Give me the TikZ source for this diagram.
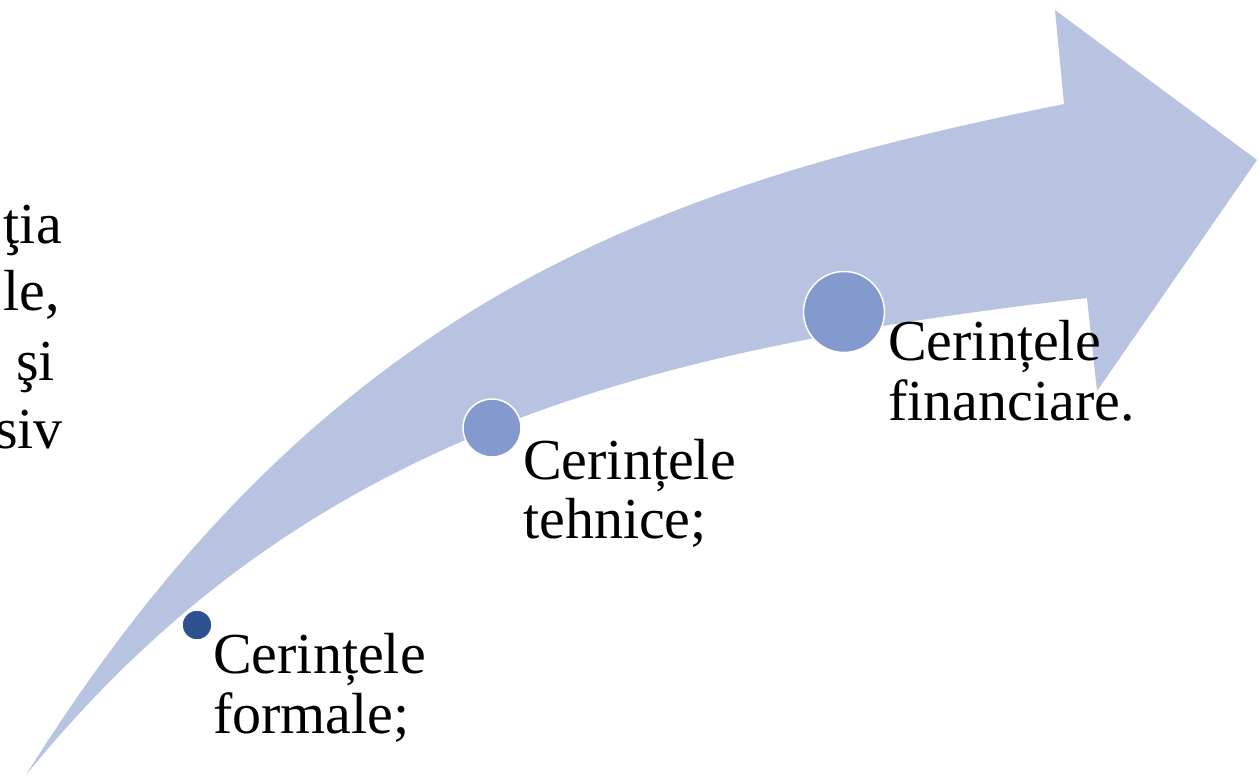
\documentclass[tikz,border=0pt]{standalone}
\usepackage{fontspec}
\setmainfont{Liberation Serif}
\definecolor{arrowfill}{HTML}{B7C3E1}
\definecolor{dotmid}{HTML}{8499CE}
\definecolor{dotdark}{HTML}{2E5290}
\tikzset{
  dot/.style={circle, draw=white, line width=1.5pt, inner sep=0pt},
  lbl/.style={anchor=base west, inner sep=0pt, font=\fontsize{58}{60}\selectfont},
  frag/.style={anchor=base east, inner sep=0pt, font=\fontsize{58}{60}\selectfont}
}
\begin{document}
\begin{tikzpicture}[x=1pt, y=-1pt]
\useasboundingbox (0,0) rectangle (1258,776);
\clip (0,0) rectangle (1258,776);
% curved arrow
\fill[arrowfill] (26,775) .. controls (326,295) and (664,185) .. (1064,104)
  -- (1055,10) -- (1257,160) -- (1097,391) -- (1087,298)
  .. controls (637,350) and (300.5,437.5) .. (26,775) -- cycle;
% dots
\node[dot, fill=dotdark, minimum size=30pt] (c1) at (197,625) {};
\node[dot, fill=dotmid, minimum size=58pt] (c2) at (492,428) {};
\node[dot, fill=dotmid, minimum size=81pt] (c3) at (844,312) {};
% labels
\node[lbl] (t1a) at (213,673) {Cerințele};
\node[lbl] (t1b) at (213,733) {formale;};
\node[lbl] (t2a) at (523,479) {Cerințele};
\node[lbl] (t2b) at (523,538) {tehnice;};
\node[lbl] (t3a) at (888,360) {Cerințele};
\node[lbl] (t3b) at (888,420) {financiare.};
% clipped text fragments on the left
\node[frag] (f1) at (62,243) {ţia};
\node[frag] (f2) at (60,310) {le,};
\node[frag] (f3) at (55,380) {şi};
\node[frag] (f4) at (63,448) {siv};
\end{tikzpicture}
\end{document}
